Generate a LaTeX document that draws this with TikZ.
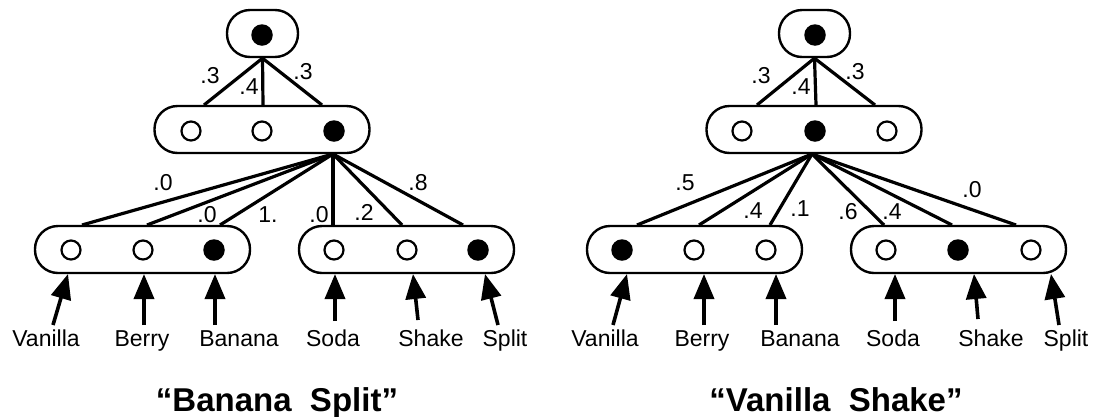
\documentclass[tikz,border=0pt]{standalone}
\usepackage{fontspec}
\setmainfont{Liberation Sans}
\usetikzlibrary{arrows.meta}
\begin{document}
\begin{tikzpicture}[x=1pt,y=-1pt,
  unitbox/.style={draw,line width=2.4pt,rounded corners=23pt,minimum height=47pt,inner sep=0pt,fill=white},
  rowbox/.style={unitbox,minimum width=215pt},
  topbox/.style={unitbox,minimum width=71pt},
  offunit/.style={circle,draw,line width=2.2pt,minimum size=19pt,inner sep=0pt,fill=white},
  onunit/.style={circle,fill=black,minimum size=21.5pt,inner sep=0pt},
  link/.style={line width=3.2pt},
  wt/.style={font=\fontsize{23}{27}\selectfont,inner sep=0pt},
  word/.style={font=\fontsize{23}{27}\selectfont,anchor=base,inner sep=0pt},
  input/.style={line width=3.6pt,-{Triangle[length=25pt,width=20pt]}},
  caption/.style={font=\fontsize{33}{38}\selectfont\bfseries,anchor=base,inner sep=0pt}]
\useasboundingbox (0,0) rectangle (1094,416);

% ---------------- left network: "Banana Split" ----------------
\node[topbox] (LT) at (262.5,33.5) {};
\node[onunit] (LT0) at (262,35) {};
\node[rowbox] (LM) at (262,129.5) {};
\node[offunit] (LM1) at (191,131) {};
\node[offunit] (LM2) at (262,131) {};
\node[onunit]  (LM3) at (334,131) {};
\node[rowbox] (LA) at (142.5,249.5) {};
\node[offunit] (LA1) at (71,250) {};
\node[offunit] (LA2) at (143,250) {};
\node[onunit]  (LA3) at (214,250) {};
\node[rowbox] (LB) at (406.5,249.5) {};
\node[offunit] (LB1) at (334,250) {};
\node[offunit] (LB2) at (407,250) {};
\node[onunit]  (LB3) at (478,250) {};

\coordinate (Lt1) at (204,105);
\coordinate (Lt2) at (263,105);
\coordinate (Lt3) at (322,105);
\coordinate (Lsrc) at (333,154);
\coordinate (Lb1) at (82,225);
\coordinate (Lb2) at (147,225);
\coordinate (Lb3) at (220,225);
\coordinate (Lb4) at (333,225);
\coordinate (Lb5) at (402,225);
\coordinate (Lb6) at (463,225);

\draw[link] (LT.south) -- (Lt1);
\draw[link] (LT.south) -- (Lt2);
\draw[link] (LT.south) -- (Lt3);
\foreach \e in {1,...,6} \draw[link] (Lsrc) -- (Lb\e);

\node[wt] (Lw1) at (210,76) {.3};
\node[wt] (Lw2) at (249,87) {.4};
\node[wt] (Lw3) at (303,72) {.3};
\node[wt] (Lw4) at (163,183) {.0};
\node[wt] (Lw5) at (207,215) {.0};
\node[wt] (Lw6) at (268,215) {1.};
\node[wt] (Lw7) at (319,215) {.0};
\node[wt] (Lw8) at (364,212) {.2};
\node[wt] (Lw9) at (418,183) {.8};

\node[word] (Lx1) at (46,346) {Vanilla};
\node[word] (Lx2) at (142,346) {Berry};
\node[word] (Lx3) at (239,346) {Banana};
\node[word] (Lx4) at (333,346) {Soda};
\node[word] (Lx5) at (431,346) {Shake};
\node[word] (Lx6) at (505,346) {Split};

\coordinate (La1) at (53,325);  \coordinate (Lh1) at (68,274);
\coordinate (La2) at (144,325); \coordinate (Lh2) at (144,274);
\coordinate (La3) at (215,325); \coordinate (Lh3) at (215,274);
\coordinate (La4) at (335,321); \coordinate (Lh4) at (335,274);
\coordinate (La5) at (418,320); \coordinate (Lh5) at (413,274);
\coordinate (La6) at (498,325); \coordinate (Lh6) at (485,274);
\foreach \e in {1,...,6} \draw[input] (La\e) -- (Lh\e);

\node[caption] (Lcap) at (277,411) {“Banana\ \ Split”};

% ---------------- right network: "Vanilla Shake" ----------------
\node[topbox] (RT) at (814.5,33.5) {};
\node[onunit] (RT0) at (815,35) {};
\node[rowbox] (RM) at (814,129.5) {};
\node[offunit] (RM1) at (742,131) {};
\node[onunit]  (RM2) at (815,131) {};
\node[offunit] (RM3) at (887,131) {};
\node[rowbox] (RA) at (694.5,249.5) {};
\node[onunit]  (RA1) at (622,250) {};
\node[offunit] (RA2) at (694,250) {};
\node[offunit] (RA3) at (766,250) {};
\node[rowbox] (RB) at (958.5,249.5) {};
\node[offunit] (RB1) at (886,250) {};
\node[onunit]  (RB2) at (958,250) {};
\node[offunit] (RB3) at (1031,250) {};

\coordinate (Rt1) at (757,105);
\coordinate (Rt2) at (816,105);
\coordinate (Rt3) at (875,105);
\coordinate (Rsrc) at (812,154);
\coordinate (Rb1) at (637,225);
\coordinate (Rb2) at (699,225);
\coordinate (Rb3) at (770,225);
\coordinate (Rb4) at (884,225);
\coordinate (Rb5) at (952,225);
\coordinate (Rb6) at (1016,225);

\draw[link] (RT.south) -- (Rt1);
\draw[link] (RT.south) -- (Rt2);
\draw[link] (RT.south) -- (Rt3);
\foreach \e in {1,...,6} \draw[link] (Rsrc) -- (Rb\e);

\node[wt] (Rw1) at (761,76) {.3};
\node[wt] (Rw2) at (801,87) {.4};
\node[wt] (Rw3) at (855,72) {.3};
\node[wt] (Rw4) at (685,183) {.5};
\node[wt] (Rw5) at (753,211) {.4};
\node[wt] (Rw6) at (800,209) {.1};
\node[wt] (Rw7) at (848,212) {.6};
\node[wt] (Rw8) at (892,212) {.4};
\node[wt] (Rw9) at (972,190) {.0};

\node[word] (Rx1) at (605,346) {Vanilla};
\node[word] (Rx2) at (702,346) {Berry};
\node[word] (Rx3) at (800,346) {Banana};
\node[word] (Rx4) at (893,346) {Soda};
\node[word] (Rx5) at (991,346) {Shake};
\node[word] (Rx6) at (1066,346) {Split};

\coordinate (Ra1) at (613,325);  \coordinate (Rh1) at (627,274);
\coordinate (Ra2) at (704,325);  \coordinate (Rh2) at (704,274);
\coordinate (Ra3) at (776,325);  \coordinate (Rh3) at (776,274);
\coordinate (Ra4) at (895,321);  \coordinate (Rh4) at (895,274);
\coordinate (Ra5) at (978,319);  \coordinate (Rh5) at (974,274);
\coordinate (Ra6) at (1059,325); \coordinate (Rh6) at (1051,274);
\foreach \e in {1,...,6} \draw[input] (Ra\e) -- (Rh\e);

\node[caption] (Rcap) at (836,411) {“Vanilla\ \ Shake”};
\end{tikzpicture}
\end{document}
